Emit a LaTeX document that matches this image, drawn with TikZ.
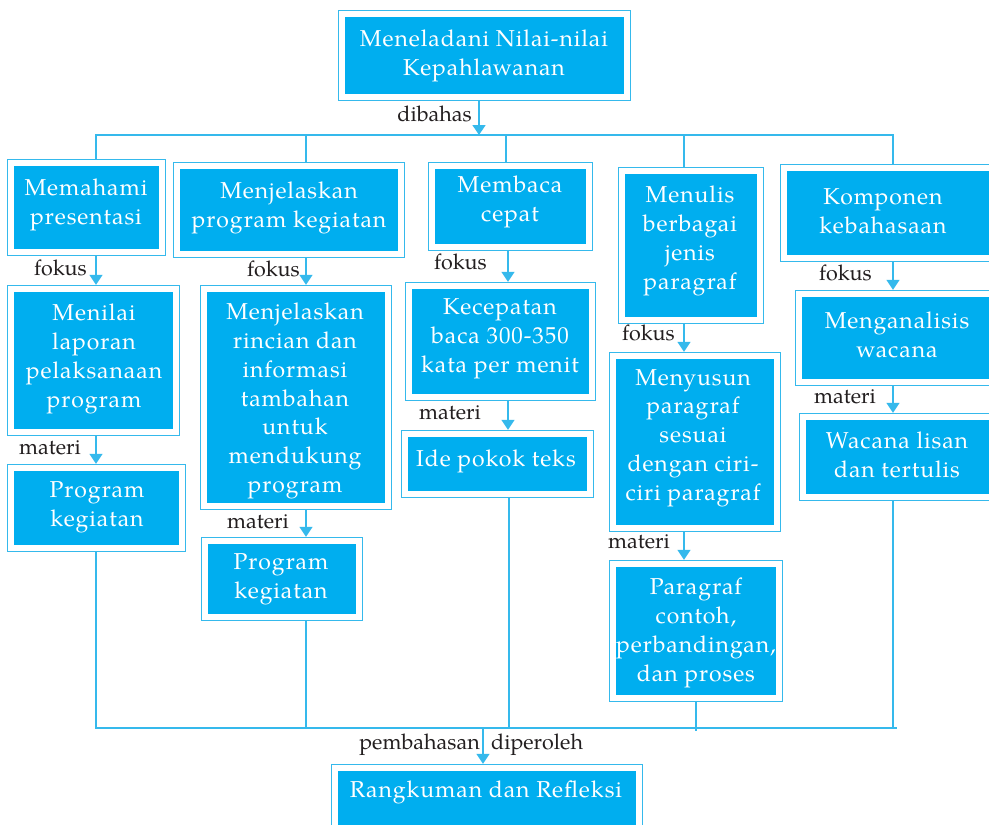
\documentclass[tikz,border=0pt]{standalone}
\usepackage{fontspec}
\setmainfont{TeX Gyre Pagella}
\newfontfamily\boxfont{TeX Gyre Pagella}[LetterSpace=4]
\usetikzlibrary{arrows.meta,fit,calc}
\definecolor{boxcyan}{HTML}{00AEEF}
\definecolor{linecyan}{HTML}{35B9EC}
\definecolor{lbltext}{HTML}{231F20}
\tikzset{
 ibox/.style={fill=boxcyan, draw=none, inner sep=0pt, outer sep=0pt},
 obox/.style={draw=linecyan, line width=1.4pt, fill=none, inner sep=6.5pt},
 btext/.style={text=white, align=center, inner sep=0pt, font=\boxfont\fontsize{23}{28.8}\selectfont},
 lbl/.style={text=lbltext, inner sep=0pt, anchor=base east, font=\fontsize{21.5}{24}\selectfont},
 conn/.style={draw=linecyan, line width=1.4pt},
 arr/.style={conn, -{Triangle[width=13pt,length=10pt]}},
}
\newcommand{\cbox}[8]{%
 \node[ibox, minimum width={(#4-#2)*1pt}, minimum height={(#5-#3)*1pt}] (#1) at ({(#2+#4)/2},{(#3+#5)/2}) {};
 \node[obox, fit=(#1)] (#1O) {};
 \node[btext] (#1T) at (#6,#7) {#8};
}
\begin{document}
\begin{tikzpicture}[x=1pt,y=-1pt]
\useasboundingbox (0,0) rectangle (989,825);
\clip (0,0) rectangle (989,825);
\fill[white] (0,0) rectangle (989,825);

\coordinate (topbar) at (0,135);
\coordinate (botbar) at (0,728);
\coordinate (kT) at (479,0);
\coordinate (k1) at (96,0);
\coordinate (k2) at (306,0);
\coordinate (k3) at (506,0);
\coordinate (k3b) at (508,0);
\coordinate (k3c) at (509,0);
\coordinate (k4) at (684,0);
\coordinate (k4b) at (696,0);
\coordinate (k4end) at (696,731);
\coordinate (k5) at (893,0);
\coordinate (kR) at (483,0);
\coordinate (barEnd) at (897,728);

\cbox{top}{345}{17}{624}{94}{484}{56}{Meneladani Nilai-nilai\\Kepahlawanan}
\cbox{aA}{14}{166}{159}{249}{86}{205}{Memahami\\presentasi}
\cbox{aB}{14}{292}{173}{429}{94}{359}{Menilai\\laporan\\pelaksanaan\\program}
\cbox{aC}{14}{471}{179}{545}{97}{507}{Program\\kegiatan}
\cbox{bA}{180}{169}{398}{251}{289}{208}{Menjelaskan\\program kegiatan}
\cbox{bB}{207}{292}{385}{503}{295}{401}{Menjelaskan\\rincian dan\\informasi\\tambahan\\untuk\\mendukung\\program}
\cbox{bC}{208}{544}{356}{614}{281}{579}{Program\\kegiatan}
\cbox{cA}{435}{169}{586}{244}{510}{202}{Membaca\\cepat}
\cbox{cB}{412}{289}{589}{394}{500}{339}{Kecepatan\\baca 300-350\\kata per menit}
\cbox{cC}{408}{437}{587}{491}{496}{461}{Ide pokok teks}
\cbox{dA}{625}{174}{757}{317}{690}{241}{Menulis\\berbagai\\jenis\\paragraf}
\cbox{dB}{616}{359}{774}{525}{693}{438}{Menyusun\\paragraf\\sesuai\\dengan ciri-\\ciri paragraf}
\cbox{dC}{616}{567}{776}{695}{696}{633}{Paragraf\\contoh,\\perbandingan,\\dan proses}
\cbox{eA}{787}{171}{1010}{255}{883}{211}{Komponen\\kebahasaan}
\cbox{eB}{802}{297}{1010}{379}{897}{335}{Menganalisis\\wacana}
\cbox{eC}{806}{420}{1010}{494}{897}{455}{Wacana lisan\\dan tertulis}
\cbox{rk}{338}{771}{636}{845}{486}{792}{Rangkuman dan Refleksi}

% top
\draw[arr] (topO.south -| kT) -- (kT |- topbar);
\draw[conn] (aAO.north -| k1) |- (k5 |- topbar) -- (eAO.north -| k5);
\draw[conn] (k2 |- topbar) -- (bAO.north -| k2);
\draw[conn] (k3 |- topbar) -- (cAO.north -| k3);
\draw[conn] (k4 |- topbar) -- (dAO.north -| k4);

% columns
\draw[arr] (aAO.south -| k1) -- (aBO.north -| k1);
\draw[arr] (aBO.south -| k1) -- (aCO.north -| k1);
\draw[arr] (bAO.south -| k2) -- (bBO.north -| k2);
\draw[arr] (bBO.south -| k2) -- (bCO.north -| k2);
\draw[arr] (cAO.south -| k3b) -- (cBO.north -| k3b);
\draw[arr] (cBO.south -| k3b) -- (cCO.north -| k3b);
\draw[arr] (dAO.south -| k4) -- (dBO.north -| k4);
\draw[arr] (dBO.south -| k4) -- (dCO.north -| k4);
\draw[arr] (eAO.south -| k5) -- (eBO.north -| k5);
\draw[arr] (eBO.south -| k5) -- (eCO.north -| k5);

% bottom
\draw[conn] (aCO.south -| k1) |- (barEnd);
\draw[conn] (bCO.south -| k2) -- (k2 |- botbar);
\draw[conn] (cCO.south -| k3c) -- (k3c |- botbar);
\draw[conn] (dCO.south -| k4b) -- (k4end);
\draw[conn] (eCO.south -| k5) -- (k5 |- botbar);
\draw[arr] (kR |- botbar) -- (rkO.north -| kR);

% labels
\node[lbl] (l0) at (472,121) {dibahas};
\node[lbl] (l1) at (87,275) {fokus};
\node[lbl] (l2) at (81,454) {materi};
\node[lbl] (l3) at (300,276) {fokus};
\node[lbl] (l4) at (289,528) {materi};
\node[lbl] (l5) at (487,269) {fokus};
\node[lbl] (l6) at (481,419) {materi};
\node[lbl] (l7) at (675,340) {fokus};
\node[lbl] (l8) at (670,548) {materi};
\node[lbl] (l9) at (872,280) {fokus};
\node[lbl] (l10) at (876,403) {materi};
\node[lbl] (l11) at (480,749) {pembahasan};
\node[lbl, anchor=base west] (l12) at (491,749) {diperoleh};
\end{tikzpicture}
\end{document}
